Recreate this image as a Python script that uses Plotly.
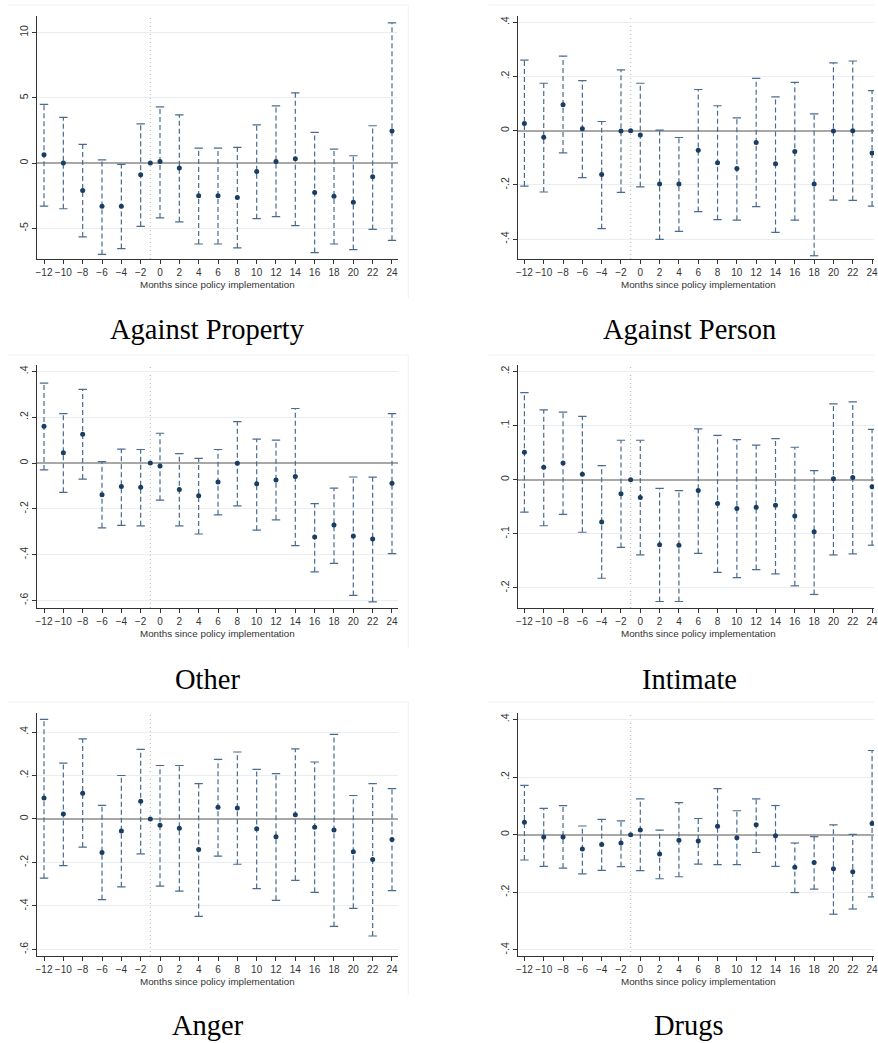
import plotly.graph_objects as go

W, H = 878, 1043

months = [-12, -10, -8, -6, -4, -2, -1, 0, 2, 4, 6, 8, 10, 12, 14, 16, 18, 20, 22, 24]
xtick_vals = [-12, -10, -8, -6, -4, -2, 0, 2, 4, 6, 8, 10, 12, 14, 16, 18, 20, 22, 24]
xlabel = "Months since policy implementation"

titles = ["Against Property", "Against Person", "Other", "Intimate", "Anger", "Drugs"]

# Against Property
prop_coef = [0.64, 0.0, -2.1, -3.3, -3.3, -0.9, 0, 0.13, -0.38, -2.5, -2.5, -2.63, -0.64, 0.13, 0.33, -2.25, -2.55, -3.0, -1.05, 2.45]
prop_hi = [4.5, 3.5, 1.43, 0.25, -0.1, 3.0, None, 4.3, 3.7, 1.15, 1.15, 1.2, 2.93, 4.39, 5.38, 2.35, 1.07, 0.56, 2.86, 10.74]
prop_lo = [-3.3, -3.5, -5.66, -7.0, -6.55, -4.85, None, -4.2, -4.5, -6.2, -6.2, -6.5, -4.26, -4.1, -4.8, -6.86, -6.2, -6.63, -5.08, -5.92]

# Against Person
pers_coef = [0.027, -0.024, 0.096, 0.007, -0.161, -0.001, 0, -0.016, -0.196, -0.196, -0.072, -0.118, -0.139, -0.043, -0.122, -0.077, -0.196, -0.001, 0.0, -0.082]
pers_hi = [0.26, 0.175, 0.275, 0.185, 0.034, 0.224, None, 0.175, 0.002, -0.025, 0.152, 0.092, 0.047, 0.193, 0.125, 0.178, 0.062, 0.25, 0.257, 0.148]
pers_lo = [-0.204, -0.226, -0.082, -0.173, -0.361, -0.227, None, -0.207, -0.401, -0.371, -0.298, -0.328, -0.330, -0.280, -0.375, -0.330, -0.461, -0.256, -0.257, -0.278]

# Other
oth_coef = [0.161, 0.045, 0.126, -0.138, -0.103, -0.106, 0, -0.013, -0.116, -0.143, -0.083, -0.001, -0.091, -0.074, -0.059, -0.323, -0.271, -0.319, -0.332, -0.088]
oth_hi = [0.349, 0.216, 0.322, 0.006, 0.061, 0.059, None, 0.130, 0.041, 0.020, 0.059, 0.181, 0.104, 0.100, 0.238, -0.177, -0.110, -0.061, -0.062, 0.216]
oth_lo = [-0.030, -0.128, -0.070, -0.283, -0.272, -0.274, None, -0.162, -0.274, -0.310, -0.226, -0.187, -0.293, -0.248, -0.361, -0.475, -0.438, -0.578, -0.606, -0.396]

# Intimate
int_coef = [0.051, 0.023, 0.031, 0.010, -0.078, -0.026, 0, -0.033, -0.120, -0.121, -0.020, -0.044, -0.053, -0.051, -0.047, -0.067, -0.096, 0.002, 0.004, -0.013]
int_hi = [0.161, 0.129, 0.125, 0.117, 0.026, 0.073, None, 0.073, -0.016, -0.020, 0.094, 0.082, 0.074, 0.064, 0.076, 0.060, 0.017, 0.140, 0.144, 0.093]
int_lo = [-0.060, -0.085, -0.064, -0.097, -0.182, -0.125, None, -0.139, -0.225, -0.225, -0.136, -0.171, -0.181, -0.166, -0.174, -0.196, -0.212, -0.139, -0.137, -0.121]

# Anger
ang_coef = [0.097, 0.023, 0.118, -0.154, -0.055, 0.082, 0, -0.029, -0.043, -0.140, 0.054, 0.051, -0.045, -0.082, 0.020, -0.038, -0.051, -0.151, -0.186, -0.094]
ang_hi = [0.458, 0.257, 0.368, 0.063, 0.200, 0.320, None, 0.246, 0.246, 0.163, 0.274, 0.308, 0.228, 0.209, 0.322, 0.262, 0.389, 0.108, 0.163, 0.140]
ang_lo = [-0.272, -0.214, -0.129, -0.371, -0.312, -0.160, None, -0.309, -0.332, -0.448, -0.171, -0.208, -0.320, -0.374, -0.282, -0.337, -0.494, -0.411, -0.538, -0.329]

# Drugs
drg_coef = [0.043, -0.008, -0.008, -0.050, -0.034, -0.029, 0, 0.016, -0.067, -0.019, -0.022, 0.029, -0.011, 0.034, -0.004, -0.113, -0.097, -0.118, -0.129, 0.039]
drg_hi = [0.171, 0.091, 0.101, 0.030, 0.053, 0.048, None, 0.124, 0.016, 0.111, 0.056, 0.160, 0.083, 0.124, 0.101, -0.029, -0.007, 0.034, 0.001, 0.292]
drg_lo = [-0.088, -0.110, -0.116, -0.136, -0.124, -0.111, None, -0.125, -0.153, -0.146, -0.102, -0.104, -0.104, -0.062, -0.110, -0.201, -0.189, -0.276, -0.258, -0.216]

# y ticks per panel
prop_ytick = [-5, 0, 5, 10]
prop_ytext = ["-5", "0", "5", "10"]
pers_ytick = [-0.4, -0.2, 0, 0.2, 0.4]
pers_ytext = ["-.4", "-.2", "0", ".2", ".4"]
oth_ytick = [-0.6, -0.4, -0.2, 0, 0.2, 0.4]
oth_ytext = ["-.6", "-.4", "-.2", "0", ".2", ".4"]
int_ytick = [-0.2, -0.1, 0, 0.1, 0.2]
int_ytext = ["-.2", "-.1", "0", ".1", ".2"]
ang_ytick = [-0.6, -0.4, -0.2, 0, 0.2, 0.4]
ang_ytext = ["-.6", "-.4", "-.2", "0", ".2", ".4"]
drg_ytick = [-0.4, -0.2, 0, 0.2, 0.4]
drg_ytext = ["-.4", "-.2", "0", ".2", ".4"]

panels = [
    (prop_coef, prop_lo, prop_hi, prop_ytick, prop_ytext, [-7.35, 11.27]),
    (pers_coef, pers_lo, pers_hi, pers_ytick, pers_ytext, [-0.473, 0.423]),
    (oth_coef, oth_lo, oth_hi, oth_ytick, oth_ytext, [-0.633, 0.428]),
    (int_coef, int_lo, int_hi, int_ytick, int_ytext, [-0.237, 0.212]),
    (ang_coef, ang_lo, ang_hi, ang_ytick, ang_ytext, [-0.630, 0.486]),
    (drg_coef, drg_lo, drg_hi, drg_ytick, drg_ytext, [-0.421, 0.421]),
]

# layout geometry in pixels
col_x = [(35.3, 399.0), (519.3, 878.0)]
col_xrange = [[-12.72, 24.65], [-12.69, 24.2]]
row_y = [(16.0, 259.0), (365.0, 608.0), (713.3, 956.0)]
frame_top = [5, 355, 702]
title_y = [329, 679, 1025]
title_x = [207, 692]
label_x = [217, 701]

NAVY = "#1a3d63"
BAR = "#4a6b8f"
AXIS = "#333333"
GRID = "#e8eef2"

fig = go.Figure()
layout = dict(
    width=W, height=H,
    margin=dict(l=0, r=0, t=0, b=0),
    paper_bgcolor="white", plot_bgcolor="white",
    showlegend=False,
    font=dict(family="Liberation Sans, Arial, sans-serif", color=AXIS),
)
shapes = []
annotations = []

for i, (coef, lo, hi, ytv, ytt, yr) in enumerate(panels):
    r, c = divmod(i, 2)
    n = i + 1
    xa = "x" if n == 1 else f"x{n}"
    ya = "y" if n == 1 else f"y{n}"
    x0, x1 = col_x[c]
    top, bot = row_y[r]

    # dashed CI segments
    sx, sy = [], []
    cx, cy = [], []
    for m, l, h in zip(months, lo, hi):
        if l is None or h is None:
            continue
        sx += [m, m, None]
        sy += [l, h, None]
        cx += [m, m]
        cy += [l, h]
    fig.add_trace(go.Scatter(x=sx, y=sy, mode="lines", xaxis=xa, yaxis=ya,
                             line=dict(color=BAR, width=1.2, dash="5px,3px"),
                             hoverinfo="skip"))
    fig.add_trace(go.Scatter(x=cx, y=cy, mode="markers", xaxis=xa, yaxis=ya,
                             marker=dict(symbol="line-ew", size=6,
                                         line=dict(color=BAR, width=1.2)),
                             hoverinfo="skip"))
    fig.add_trace(go.Scatter(x=months, y=coef, mode="markers", xaxis=xa, yaxis=ya,
                             marker=dict(symbol="circle", size=5, color=NAVY)))

    layout["xaxis" if n == 1 else f"xaxis{n}"] = dict(
        domain=[x0 / W, min(x1 / W, 1.0)], anchor=ya, range=col_xrange[c],
        tickmode="array", tickvals=xtick_vals, tickangle=0, ticks="outside", ticklen=4,
        tickcolor=AXIS, showline=True, linecolor=AXIS, linewidth=1,
        showgrid=False, zeroline=False, tickfont=dict(size=10, color=AXIS),
        ticklabeloverflow="allow",
    )
    layout["yaxis" if n == 1 else f"yaxis{n}"] = dict(
        domain=[1 - bot / H, 1 - top / H], anchor=xa, range=yr,
        tickmode="array", tickvals=ytv, ticktext=ytt, tickangle=-90,
        ticks="outside", ticklen=4, tickcolor=AXIS, showline=True,
        linecolor=AXIS, linewidth=1, showgrid=True, gridcolor=GRID, gridwidth=1,
        zeroline=True, zerolinecolor="#a8a8a8", zerolinewidth=1.6,
        tickfont=dict(size=10.5, color=AXIS),
    )

    # reference-period dotted vertical line
    shapes.append(dict(type="line", xref=xa, yref=f"{ya} domain", x0=-1, x1=-1,
                       y0=0, y1=1, line=dict(color="#b5b5b5", width=1, dash="1px,3px"),
                       layer="below"))

    # light frame (top and right edge) around each panel
    fx0 = 6 if c == 0 else 490
    fx1 = 409 if c == 0 else 900
    ft = frame_top[r]
    shapes.append(dict(type="line", xref="paper", yref="paper",
                       x0=fx0 / W, x1=min(fx1, W) / W, y0=1 - ft / H, y1=1 - ft / H,
                       line=dict(color="#edf1f4", width=1), layer="below"))
    if c == 0:
        shapes.append(dict(type="line", xref="paper", yref="paper",
                           x0=fx1 / W, x1=fx1 / W, y0=1 - ft / H, y1=1 - (ft + 293) / H,
                           line=dict(color="#edf1f4", width=1), layer="below"))

    annotations.append(dict(text=xlabel, xref="paper", yref="paper",
                            x=label_x[c] / W, y=1 - (bot + 25) / H,
                            xanchor="center", yanchor="middle", showarrow=False,
                            font=dict(size=9.8, color="#333333",
                                      family="Liberation Sans, Arial, sans-serif")))
    annotations.append(dict(text=titles[i], xref="paper", yref="paper",
                            x=title_x[c] / W, y=1 - title_y[r] / H,
                            xanchor="center", yanchor="middle", showarrow=False,
                            font=dict(size=28.5, color="black",
                                      family="Liberation Serif, Times New Roman, serif")))

layout["shapes"] = shapes
layout["annotations"] = annotations
fig.update_layout(**layout)
fig.write_html("out.html")
